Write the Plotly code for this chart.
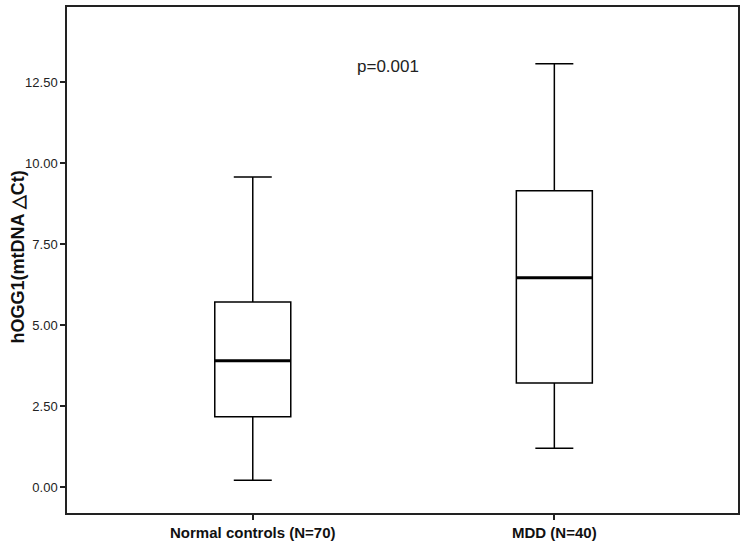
import plotly.graph_objects as go

categories = ["Normal controls (N=70)", "MDD (N=40)"]
lower_whisker = [0.22, 1.21]
q1_values = [2.18, 3.22]
median_values = [3.91, 6.47]
q3_values = [5.72, 9.16]
upper_whisker = [9.58, 13.08]
y_ticks = [0, 2.5, 5, 7.5, 10, 12.5]
y_tick_labels = ["0.00", "2.50", "5.00", "7.50", "10.00", "12.50"]
y_title = "hOGG1(mtDNA \u25b3Ct)"
p_text = "p=0.001"

BOX_W = 0.252

fig = go.Figure()
fig.add_trace(go.Box(
    x=[0, 1],
    q1=q1_values, median=median_values, q3=q3_values,
    lowerfence=lower_whisker, upperfence=upper_whisker,
    boxpoints=False,
    width=BOX_W,
    whiskerwidth=0.5,
    line=dict(color="black", width=1.5),
    fillcolor="white",
    showlegend=False,
    hoverinfo="skip",
))

for i, m in enumerate(median_values):
    fig.add_shape(type="line", xref="x", yref="y",
                  x0=i - BOX_W / 2, x1=i + BOX_W / 2, y0=m, y1=m,
                  line=dict(color="black", width=3))

fig.add_annotation(text=p_text, xref="paper", yref="paper",
                   x=0.479, y=0.882, xanchor="center", yanchor="middle", showarrow=False,
                   font=dict(family="Arial, Liberation Sans", size=17, color="#222"))

fig.add_annotation(text=y_title, xref="paper", yref="paper",
                   x=-0.0729, y=0.505, xanchor="center", yanchor="middle",
                   textangle=-90, showarrow=False,
                   font=dict(family="Arial, Liberation Sans", size=18, color="#111", weight="bold"))

fig.update_layout(
    width=745, height=548,
    margin=dict(l=67, r=6, t=5, b=35),
    plot_bgcolor="white", paper_bgcolor="white",
    font=dict(family="Arial, Liberation Sans", color="#222"),
)
fig.update_xaxes(
    range=[-0.616, 1.609],
    tickvals=[0, 1], ticktext=categories,
    tickfont=dict(family="Liberation Sans Narrow, Arial Narrow, Liberation Sans", size=15, color="#111", weight="bold"),
    ticks="outside", ticklen=5, tickcolor="#222", tickwidth=1.5,
    showline=True, linecolor="#222", linewidth=1.5, mirror=True,
    showgrid=False, zeroline=False,
)
fig.update_yaxes(
    range=[-0.79, 14.83],
    tickvals=y_ticks, ticktext=y_tick_labels,
    tickfont=dict(size=13, color="#222"),
    ticks="outside", ticklen=5, tickcolor="#222", tickwidth=1.5,
    showline=True, linecolor="#222", linewidth=1.5, mirror=True,
    showgrid=False, zeroline=False,
)

fig.write_html("out.html", post_script="document.body.style.margin='0';",
               config={"displayModeBar": False})
